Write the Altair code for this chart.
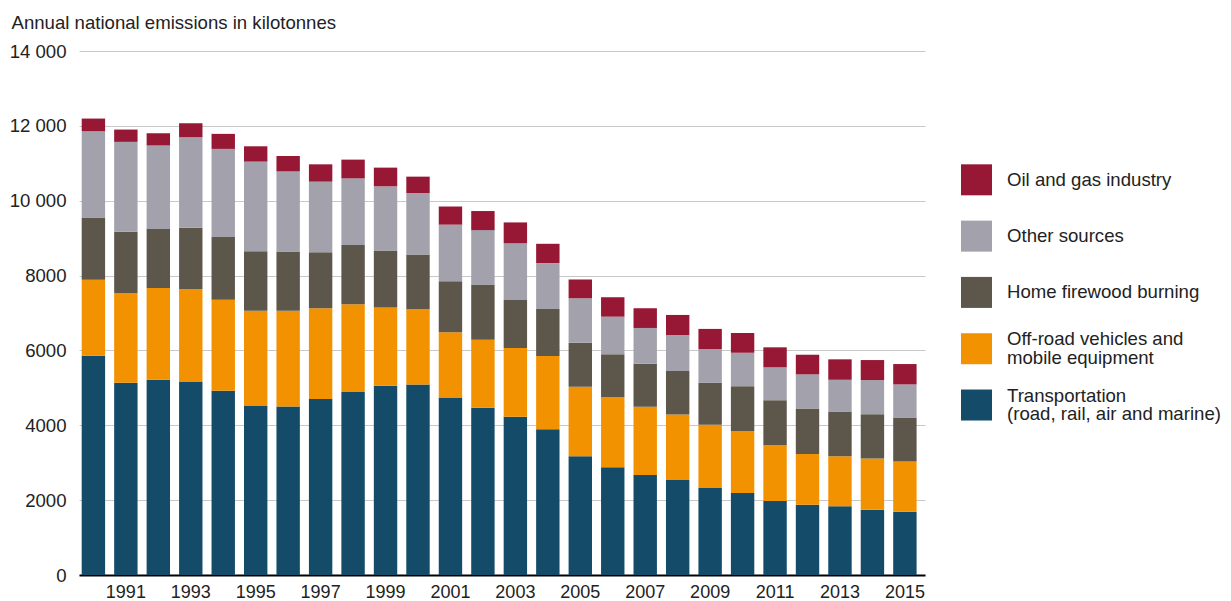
import altair as alt
import pandas as pd

years = list(range(1990, 2016))
odd_years = [y for y in years if y % 2 == 1]

sources = [
    "Oil and gas industry",
    "Other sources",
    "Home firewood burning",
    "Off-road vehicles and mobile equipment",
    "Transportation (road, rail, air and marine)",
]
legend_labels = [
    "Oil and gas industry",
    "Other sources",
    "Home firewood burning",
    "Off-road vehicles and\nmobile equipment",
    "Transportation\n(road, rail, air and marine)",
]
colors = ["#961834", "#a3a1ab", "#5d574b", "#f39200", "#134b69"]

transport = [5860, 5135, 5216, 5172, 4921, 4530, 4500, 4700, 4886, 5056, 5092, 4740, 4466,
             4225, 3896, 3173, 2878, 2672, 2538, 2335, 2190, 1976, 1880, 1834, 1745, 1692]
offroad = [2030, 2394, 2455, 2472, 2436, 2533, 2560, 2427, 2348, 2088, 2008, 1745, 1821,
           1839, 1954, 1855, 1874, 1821, 1751, 1680, 1660, 1491, 1355, 1339, 1366, 1339]
firewood = [1660, 1641, 1571, 1633, 1671, 1590, 1580, 1499, 1580, 1526, 1463, 1360, 1472,
            1285, 1258, 1178, 1144, 1151, 1159, 1120, 1196, 1205, 1215, 1197, 1186, 1178]
other = [2310, 2402, 2231, 2418, 2356, 2391, 2142, 1883, 1784, 1713, 1643, 1515, 1456,
         1518, 1224, 1189, 1006, 956, 964, 900, 892, 876, 910, 846, 911, 883]
oil = [335, 329, 329, 375, 402, 410, 412, 463, 500, 501, 437, 485, 509,
       553, 517, 498, 519, 527, 536, 540, 527, 535, 525, 546, 535, 544]

series = {
    "Transportation (road, rail, air and marine)": transport,
    "Off-road vehicles and mobile equipment": offroad,
    "Home firewood burning": firewood,
    "Other sources": other,
    "Oil and gas industry": oil,
}

rows = []
for k, (name, vals) in enumerate(series.items()):
    for y, v in zip(years, vals):
        rows.append({"year": y, "source": name, "value": v, "stackorder": k})
df = pd.DataFrame(rows)

legend_df = pd.DataFrame({
    "source": sources,
    "label": legend_labels,
    "idx": list(range(len(sources))),
})

color_scale = alt.Scale(domain=sources, range=colors)
TXT = "#222222"

bars = alt.Chart(df).mark_bar().encode(
    x=alt.X(
        "year:O",
        title=None,
        scale=alt.Scale(paddingInner=0.279, paddingOuter=0.171, align=0.243),
        axis=alt.Axis(
            values=odd_years, labelAngle=0, ticks=False, domainColor="#000000",
            domainWidth=2, labelPadding=8, labelFontSize=18, grid=False,
            labelColor=TXT,
        ),
    ),
    y=alt.Y(
        "value:Q",
        stack="zero",
        scale=alt.Scale(domain=[0, 14000], nice=False),
        axis=alt.Axis(
            values=[0, 2000, 4000, 6000, 8000, 10000, 12000, 14000],
            title="Annual national emissions in kilotonnes",
            titleAngle=0, titleAlign="left", titleBaseline="alphabetic",
            titleX=-68, titleY=-23, titleFontWeight="normal", titleFontSize=18.6,
            titleColor=TXT,
            domain=False, ticks=False, labelPadding=13, labelFontSize=18.6,
            labelColor=TXT,
            labelExpr="datum.value >= 10000 ? replace(format(datum.value, ','), ',', ' ') : format(datum.value, 'd')",
            gridColor="#c8c8c8", gridWidth=1,
        ),
    ),
    color=alt.Color("source:N", scale=color_scale, legend=None),
    order=alt.Order("stackorder:Q", sort="ascending"),
).properties(width=846, height=524)

ly = alt.Y(
    "idx:Q", axis=None, title=None,
    scale=alt.Scale(domain=[-2.288, 7.019], reverse=True, nice=False, zero=False),
)

leg_sym = alt.Chart(legend_df).mark_square(size=961, opacity=1).encode(
    x=alt.value(51.5),
    y=ly,
    color=alt.Color("source:N", scale=color_scale, legend=None),
)

leg_txt1 = alt.Chart(legend_df).transform_filter(
    "indexof(datum.label, '\\n') < 0"
).mark_text(
    align="left", baseline="middle", fontSize=18.6, color=TXT, lineBreak="\n",
).encode(x=alt.value(82), y=ly, text="label:N")

leg_txt2 = alt.Chart(legend_df).transform_filter(
    "indexof(datum.label, '\\n') >= 0"
).mark_text(
    align="left", baseline="middle", fontSize=18.6, color=TXT, lineBreak="\n",
    lineHeight=18.6, dy=-9.3,
).encode(x=alt.value(82), y=ly, text="label:N")

legend = alt.layer(leg_sym, leg_txt1, leg_txt2).properties(width=290, height=524)

chart = alt.hconcat(bars, legend, spacing=0).properties(
    padding={"top": 5, "left": 1, "right": 0, "bottom": 0},
).configure(
    font="Liberation Sans",
).configure_view(stroke=None)

chart.save("out.html", embed_options={"renderer": "svg", "actions": False})
